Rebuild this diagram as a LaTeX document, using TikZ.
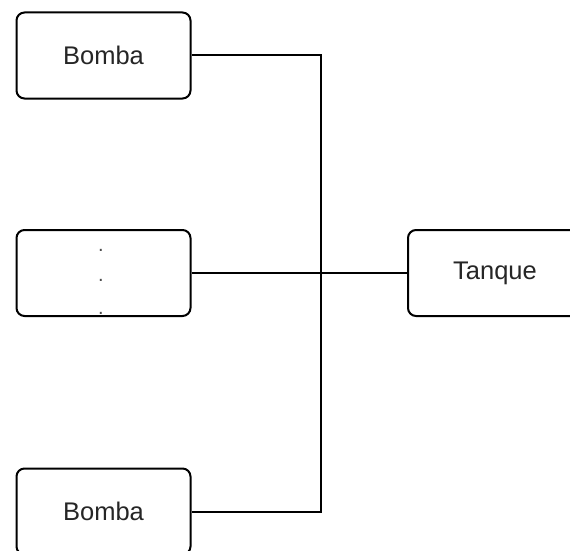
\documentclass[tikz,border=0pt]{standalone}
\usepackage{fontspec}
\setmainfont{Liberation Sans}
\begin{document}
\begin{tikzpicture}[x=1pt,y=-1pt,
  unit/.style={draw=black, line width=2pt, rounded corners=8pt, fill=white,
    minimum width=174pt, minimum height=86pt, inner sep=0pt,
    font=\fontsize{25.5}{30}\selectfont, text=black!85},
  pipe/.style={draw=black, line width=2pt},
  dotmark/.style={inner sep=0pt, anchor=base, font=\fontsize{20}{24}\selectfont, text=black!70}]
  \useasboundingbox (0,0) rectangle (570,551);
  \clip (0,0) rectangle (570,551);

  % pumps on the left, tank on the right
  \node[unit] (b1) at (103.5,55.5) {Bomba};
  \node[unit] (b2) at (103.5,273) {};
  \node[unit] (b3) at (103.5,511.5) {Bomba};
  \node[unit] (tq) at (495,273) {Tanque};

  % vertical ellipsis inside the middle box
  \node[dotmark] (d1) at (101,251) {.};
  \node[dotmark] (d2) at (101,281) {.};
  \node[dotmark] (d3) at (101,314) {.};

  % shared header joining the pumps
  \coordinate (bus) at (321,273);
  \draw[pipe] (b1.east) -| (bus) |- (b3.east);
  \draw[pipe] (b2.east) -- (tq.west);
\end{tikzpicture}
\end{document}
